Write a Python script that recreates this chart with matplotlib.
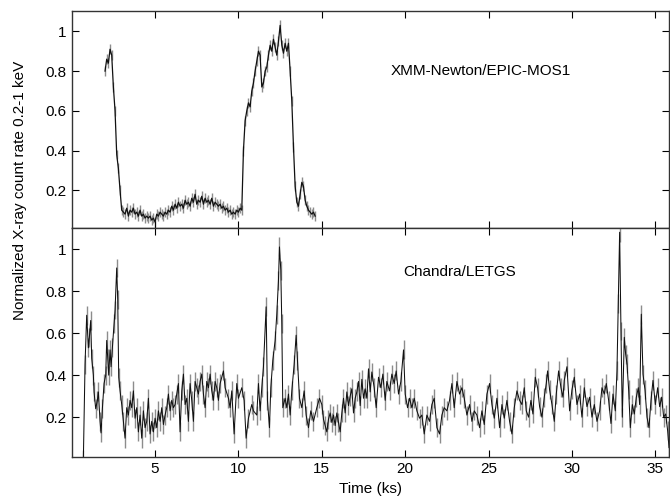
import numpy as np, matplotlib
matplotlib.use("Agg")
import matplotlib.pyplot as plt
from matplotlib.ticker import FuncFormatter

plt.rcParams.update({"font.family": ["Liberation Sans", "DejaVu Sans"], "font.size": 11})

# ---- XMM-Newton/EPIC-MOS1 light curve (0.1 ks bins from 2.0 ks) ----
mos_t0, mos_dt = 2.0, 0.1
mos_rate = [0.80, 0.86, 0.84, 0.91, 0.88, 0.72, 0.60, 0.38, 0.31, 0.20,
            0.10, 0.09, 0.08, 0.11, 0.07, 0.10, 0.09, 0.11, 0.08, 0.09,
            0.07, 0.10, 0.07, 0.08, 0.06, 0.07, 0.06, 0.07, 0.05, 0.06,
            0.04, 0.08, 0.07, 0.09, 0.08, 0.07, 0.09, 0.08, 0.10, 0.09,
            0.12, 0.10, 0.13, 0.11, 0.14, 0.12, 0.13, 0.11, 0.15, 0.13,
            0.14, 0.12, 0.16, 0.14, 0.18, 0.13, 0.15, 0.14, 0.17, 0.13,
            0.16, 0.14, 0.15, 0.13, 0.16, 0.12, 0.14, 0.13, 0.12, 0.13,
            0.11, 0.12, 0.10, 0.11, 0.09, 0.10, 0.08, 0.09, 0.08, 0.10,
            0.09, 0.11, 0.10, 0.40, 0.55, 0.60, 0.64, 0.62, 0.70, 0.74,
            0.80, 0.85, 0.90, 0.88, 0.72, 0.74, 0.80, 0.82, 0.88, 0.93,
            0.90, 0.96, 0.92, 0.88, 0.95, 1.03, 0.93, 0.89, 0.94, 0.90,
            0.94, 0.80, 0.65, 0.42, 0.22, 0.14, 0.12, 0.18, 0.24, 0.22,
            0.15, 0.12, 0.10, 0.09, 0.08, 0.09, 0.07]
mos_err = 0.025

# ---- Chandra/LETGS light curve ----
let_t = [0.70, 0.80, 0.90, 1.00, 1.06, 1.14, 1.20, 1.30, 1.34, 1.44, 1.54, 1.60, 1.70, 1.76,
         1.84, 1.94, 2.04, 2.10, 2.16, 2.22, 2.30, 2.36, 2.44, 2.54, 2.60, 2.70, 2.76, 2.82, 2.90,
         3.0, 3.1, 3.2, 3.3, 3.4, 3.5, 3.6, 3.7, 3.8, 3.9, 4.0, 4.1, 4.2, 4.3, 4.4, 4.5, 4.6,
         4.7, 4.8, 4.9, 5.0, 5.1, 5.2, 5.3, 5.4, 5.5, 5.6, 5.7, 5.8, 5.9, 6.0, 6.1, 6.2, 6.3,
         6.4, 6.5, 6.6, 6.7, 6.8, 6.9, 7.0, 7.1, 7.2, 7.3, 7.4, 7.5, 7.6, 7.7, 7.8, 7.9, 8.0,
         8.1, 8.2, 8.3, 8.4, 8.5, 8.6, 8.7, 8.8,
         8.9, 9.1, 9.2, 9.4, 9.5, 9.6, 9.74, 9.9, 10.0, 10.2, 10.34, 10.46, 10.6, 10.8, 10.9,
         11.1, 11.2, 11.3, 11.4, 11.5, 11.66, 11.74, 11.86, 11.94, 12.06, 12.2, 12.3, 12.4,
         12.46, 12.54, 12.6, 12.66, 12.8, 12.9, 13.0, 13.1, 13.2, 13.34, 13.46, 13.54, 13.66,
         13.8, 13.94, 14.06, 14.2, 14.34, 14.5, 14.7, 14.86,
         15.0, 15.1, 15.2, 15.3, 15.4, 15.5, 15.6, 15.7, 15.8, 15.9, 16.0, 16.1, 16.2, 16.3,
         16.4, 16.5, 16.6, 16.7, 16.8, 16.9, 17.0, 17.1, 17.2, 17.3, 17.4, 17.5, 17.6, 17.7,
         17.8, 17.9, 18.0,
         18.14, 18.26, 18.4, 18.54, 18.66, 18.8, 18.9, 19.06, 19.2, 19.34, 19.46, 19.6, 19.74,
         19.9, 20.0, 20.14, 20.26, 20.4, 20.54, 20.7, 20.86, 21.0, 21.14, 21.3, 21.46, 21.6,
         21.74, 21.9, 22.06, 22.2, 22.34, 22.5, 22.66, 22.8, 22.94, 23.1, 23.26, 23.4, 23.54,
         23.7, 23.86, 24.0, 24.14, 24.3, 24.46, 24.6, 24.74, 24.9, 25.06, 25.2, 25.34, 25.5,
         25.66, 25.8, 25.94, 26.1, 26.26, 26.4, 26.54, 26.7, 26.86,
         27.0, 27.14, 27.26, 27.4, 27.54, 27.66, 27.8, 27.94, 28.06, 28.2, 28.34, 28.46, 28.54,
         28.66, 28.8, 28.94, 29.06, 29.2, 29.34, 29.46, 29.54, 29.7, 29.86, 30.0, 30.14, 30.3,
         30.46, 30.6, 30.74, 30.9, 31.06, 31.2, 31.34, 31.5, 31.66, 31.8, 31.94, 32.06, 32.2,
         32.34, 32.46, 32.6, 32.7, 32.78, 32.86, 32.94, 33.02, 33.14, 33.22, 33.3, 33.4, 33.5,
         33.62, 33.74, 33.86, 33.98, 34.06, 34.16, 34.26, 34.38, 34.5, 34.62, 34.74, 34.86,
         35.0, 35.14, 35.26, 35.38, 35.5, 35.62, 35.74, 35.82]
let_rate = [0.00, 0.45, 0.685, 0.53, 0.58, 0.66, 0.48, 0.40, 0.32, 0.24, 0.28, 0.32, 0.18, 0.125,
            0.24, 0.36, 0.40, 0.565, 0.48, 0.40, 0.52, 0.44, 0.53, 0.645, 0.71, 0.91, 0.76, 0.39, 0.325,
            0.26, 0.18, 0.10, 0.245, 0.21, 0.28, 0.245, 0.325, 0.195, 0.245, 0.13, 0.21, 0.10, 0.23,
            0.15, 0.18, 0.29, 0.12, 0.18, 0.13, 0.195, 0.15, 0.23, 0.18, 0.245, 0.165, 0.21, 0.245,
            0.31, 0.23, 0.28, 0.245, 0.26, 0.31, 0.36, 0.13, 0.325, 0.405, 0.26, 0.29, 0.18, 0.36,
            0.28, 0.18, 0.37, 0.34, 0.31, 0.37, 0.405, 0.31, 0.245, 0.37, 0.34, 0.405, 0.325, 0.28,
            0.37, 0.34, 0.28,
            0.36, 0.42, 0.34, 0.29, 0.245, 0.325, 0.12, 0.36, 0.29, 0.34, 0.28, 0.10, 0.195, 0.26,
            0.23, 0.21, 0.36, 0.23, 0.34, 0.44, 0.725, 0.28, 0.15, 0.34, 0.47, 0.565, 0.69, 0.85,
            1.01, 0.90, 0.645, 0.245, 0.29, 0.245, 0.31, 0.21, 0.325, 0.45, 0.59, 0.47, 0.29,
            0.245, 0.325, 0.21, 0.15, 0.23, 0.18, 0.245, 0.29,
            0.26, 0.19, 0.16, 0.13, 0.19, 0.22, 0.175, 0.21, 0.16, 0.22, 0.175, 0.13, 0.22, 0.29,
            0.22, 0.32, 0.255, 0.30, 0.335, 0.22, 0.29, 0.32, 0.37, 0.255, 0.38, 0.29, 0.335, 0.29,
            0.43, 0.32, 0.415,
            0.34, 0.245, 0.39, 0.34, 0.405, 0.28, 0.37, 0.325, 0.405, 0.36, 0.42, 0.31, 0.37,
            0.52, 0.31, 0.245, 0.29, 0.245, 0.29, 0.23, 0.195, 0.21, 0.12, 0.21, 0.18, 0.26,
            0.29, 0.15, 0.12, 0.21, 0.245, 0.23, 0.28, 0.36, 0.245, 0.37, 0.31, 0.34, 0.29,
            0.21, 0.26, 0.18, 0.23, 0.21, 0.15, 0.23, 0.165, 0.31, 0.36, 0.26, 0.195, 0.29,
            0.15, 0.26, 0.195, 0.28, 0.18, 0.12, 0.245, 0.325, 0.28,
            0.26, 0.34, 0.23, 0.20, 0.28, 0.215, 0.39, 0.34, 0.25, 0.20, 0.295, 0.36, 0.42,
            0.33, 0.26, 0.18, 0.31, 0.42, 0.34, 0.295, 0.375, 0.44, 0.23, 0.33, 0.39, 0.26,
            0.31, 0.20, 0.34, 0.25, 0.295, 0.20, 0.26, 0.18, 0.23, 0.34, 0.31, 0.36, 0.28,
            0.17, 0.31, 0.23, 0.42, 0.74, 1.08, 0.61, 0.20, 0.58, 0.50, 0.455, 0.33, 0.15,
            0.26, 0.215, 0.295, 0.34, 0.26, 0.69, 0.405, 0.33, 0.20, 0.15, 0.28, 0.375,
            0.26, 0.34, 0.25, 0.295, 0.20, 0.215, 0.135, 0.055]
let_err = 0.045

mos_t = mos_t0 + mos_dt * np.arange(len(mos_rate))

fig = plt.figure(figsize=(6.7, 4.99), dpi=100)
ax1 = fig.add_axes([0.107, 0.543, 0.892, 0.434])
ax2 = fig.add_axes([0.107, 0.084, 0.892, 0.459], sharex=ax1)

for ax, t, r, e, lw in [(ax1, mos_t, mos_rate, mos_err, 0.9), (ax2, let_t, let_rate, let_err, 0.75)]:
    ax.errorbar(t, r, yerr=e, fmt="none", ecolor="#8c8c8c", elinewidth=1.0, capsize=0, zorder=1)
    ax.plot(t, r, "-", color="#111111", lw=lw, zorder=2)
    ax.set_ylim(0.01, 1.1)
    ax.set_yticks([0.2, 0.4, 0.6, 0.8, 1.0])
    ax.yaxis.set_major_formatter(FuncFormatter(lambda v, p: f"{v:g}"))
    ax.tick_params(direction="in", top=True, right=True, length=5, width=0.8)
    for s in ax.spines.values():
        s.set_linewidth(1.0); s.set_color("#333333")

ax1.set_xlim(0, 35.84)
ax1.set_xticks(range(5, 36, 5))
ax1.tick_params(labelbottom=False)
ax1.text(19.1, 0.80, "XMM-Newton/EPIC-MOS1", va="center", ha="left")
ax2.text(19.9, 0.893, "Chandra/LETGS", va="center", ha="left")
ax2.set_xlabel("Time (ks)", labelpad=4)
fig.text(0.030, 0.619, "Normalized X-ray count rate 0.2-1 keV", rotation=90, va="center", ha="center")

fig.savefig("out.png", dpi=100)
